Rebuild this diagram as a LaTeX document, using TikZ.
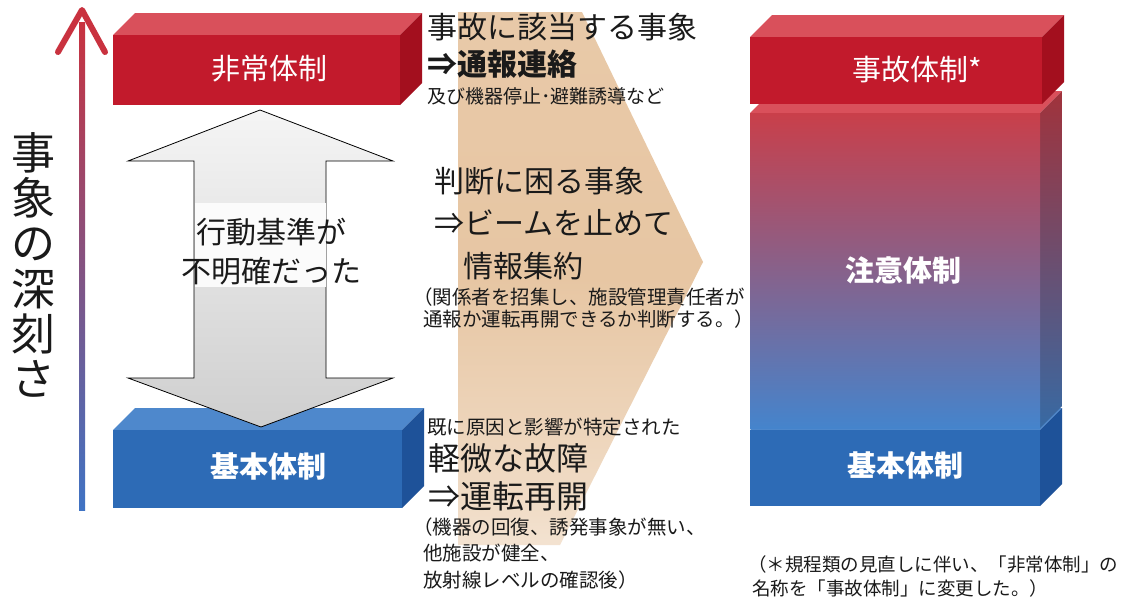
\documentclass[tikz,border=0pt]{standalone}
\usepackage{fontspec}
\setmainfont{Noto Sans CJK JP}
\definecolor{redF}{HTML}{C21A2C}
\definecolor{redT}{HTML}{D9505B}
\definecolor{redS}{HTML}{A30F1E}
\definecolor{bluF}{HTML}{2D6BB6}
\definecolor{bluT}{HTML}{4E88CC}
\definecolor{bluS}{HTML}{1E5299}
\definecolor{midP}{HTML}{A9558F}
\definecolor{gTop}{HTML}{C93F4A}
\definecolor{gMid}{HTML}{A0649A}
\definecolor{gBot}{HTML}{4584CC}
\definecolor{arrR}{HTML}{C9323F}
\definecolor{arrB}{HTML}{3F73C4}
\definecolor{beigeM}{HTML}{E7C6A3}
\definecolor{txt}{HTML}{1A1A1A}
\pgfdeclareverticalshading{beigesh}{100bp}{color(0bp)=(white); color(10bp)=(white); color(28bp)=(beigeM!60!white); color(50bp)=(beigeM); color(85bp)=(beigeM!92!white); color(100bp)=(beigeM!70!white)}
\newcommand\drawblock[7]{%
  \fill[#6] (#1,#2) -- ++(22,-22) -- (#3+22,#2-22) -- (#3,#2) -- cycle;
  \fill[#7] (#3,#2) -- ++(22,-22) -- (#3+22,#4-22) -- (#3,#4) -- cycle;
  \fill[#5] (#1,#2) rectangle (#3,#4);}
\tikzset{
  lbl/.style={text=white, inner sep=0pt, font=\fontsize{29}{34}\selectfont},
  lblb/.style={text=white, inner sep=0pt, font=\bfseries\fontsize{29}{34}\selectfont},
  big/.style={text=txt, inner sep=0pt, anchor=west, font=\fontsize{30}{34}\selectfont},
  small/.style={text=txt, inner sep=0pt, anchor=west, font=\fontsize{19.5}{22}\selectfont},
}
\begin{document}
\begin{tikzpicture}[x=1pt,y=-1pt]
\useasboundingbox (0,0) rectangle (1127,600);
\fill[white] (0,0) rectangle (1127,600);

% beige chevron
\shade[shading=beigesh]
  (458,12) -- (582,12) -- (703,262) -- (560,545) -- (458,545) -- cycle;

% vertical severity arrow
\shade[top color=arrR, middle color=midP, bottom color=arrB] (79,22) rectangle (85,510);
\draw[arrR, line width=6pt, line cap=round, line join=round] (58,52) -- (82,10) -- (105,52);
\node[text=txt, inner sep=0pt, align=center, font=\fontsize{44}{45.2}\selectfont] (sev) at (33,265)
  {事\\象\\の\\深\\刻\\さ};

% left blocks
\drawblock{113}{35}{400}{105}{redF}{redT}{redS}
\node[lbl] (hijo) at (269,69) {非常体制};
\drawblock{113}{430}{402}{508}{bluF}{bluT}{bluS}
\node[lblb] (kihonL) at (268,466) {基本体制};

% double arrow
\draw[black, line width=0.8pt, top color=gray!8, bottom color=gray!38]
  (260,110) -- (393,161) -- (326,161) -- (326,378) -- (393,378) -- (261,427)
  -- (128,378) -- (194,378) -- (194,161) -- (128,161) -- cycle;
\fill[white!97!gray] (194.5,203) rectangle (325.5,287);
\node[text=txt, inner sep=0pt, align=center, font=\fontsize{30}{39}\selectfont] (unclear) at (271,252)
  {行動基準が\\不明確だった};

% right blocks
\drawblock{750}{430}{1040}{506}{bluF}{bluT}{bluS}
\fill[redT] (750,113) -- ++(22,-22) -- (1062,91) -- (1040,113) -- cycle;
\shade[top color=gTop!80!black, middle color=gMid!80!black, bottom color=gBot!80!black] (1040,113) -- (1062,91) -- (1062,406) -- (1040,428) -- cycle;
\shade[top color=gTop, middle color=gMid, bottom color=gBot] (750,113) rectangle (1040,428);
\drawblock{750}{37}{1042}{104}{redF}{redT}{redS}
\node[lbl] (jiko) at (917,70) {事故体制*};
\node[lblb] (chui) at (903,270) {注意体制};
\node[lblb] (kihonR) at (905,465) {基本体制};

% middle texts
\node[big] (t1) at (427,27) {事故に該当する事象};
\node[big, font=\bfseries\fontsize{30}{34}\selectfont] (t2) at (427,64) {⇒通報連絡};
\node[small, font=\fontsize{19}{22}\selectfont] (t3) at (427,96) {及び機器停止･避難誘導など};
\node[big] (t4) at (434,181) {判断に困る事象};
\node[big] (t5) at (434,223) {⇒ビームを止めて};
\node[big] (t6) at (463,266) {情報集約};
\node[small] (t7) at (413,297) {（関係者を招集し、施設管理責任者が};
\node[small] (t8) at (423,319) {通報か運転再開できるか判断する。）};
\node[small] (t9) at (427,427) {既に原因と影響が特定された};
\node[big, font=\fontsize{32}{36}\selectfont] (t10) at (428,458) {軽微な故障};
\node[big, font=\fontsize{32}{36}\selectfont] (t11) at (428,496) {⇒運転再開};
\node[small] (t12) at (413,527) {（機器の回復、誘発事象が無い、};
\node[small] (t13) at (423,553) {他施設が健全、};
\node[small] (t14) at (423,580) {放射線レベルの確認後）};

% footnote
\node[small, font=\fontsize{18.5}{22}\selectfont] (fn1) at (748,564) {（＊規程類の見直しに伴い、「非常体制」の};
\node[small, font=\fontsize{18.5}{22}\selectfont] (fn2) at (752,588) {名称を「事故体制」に変更した。）};
\end{tikzpicture}
\end{document}
